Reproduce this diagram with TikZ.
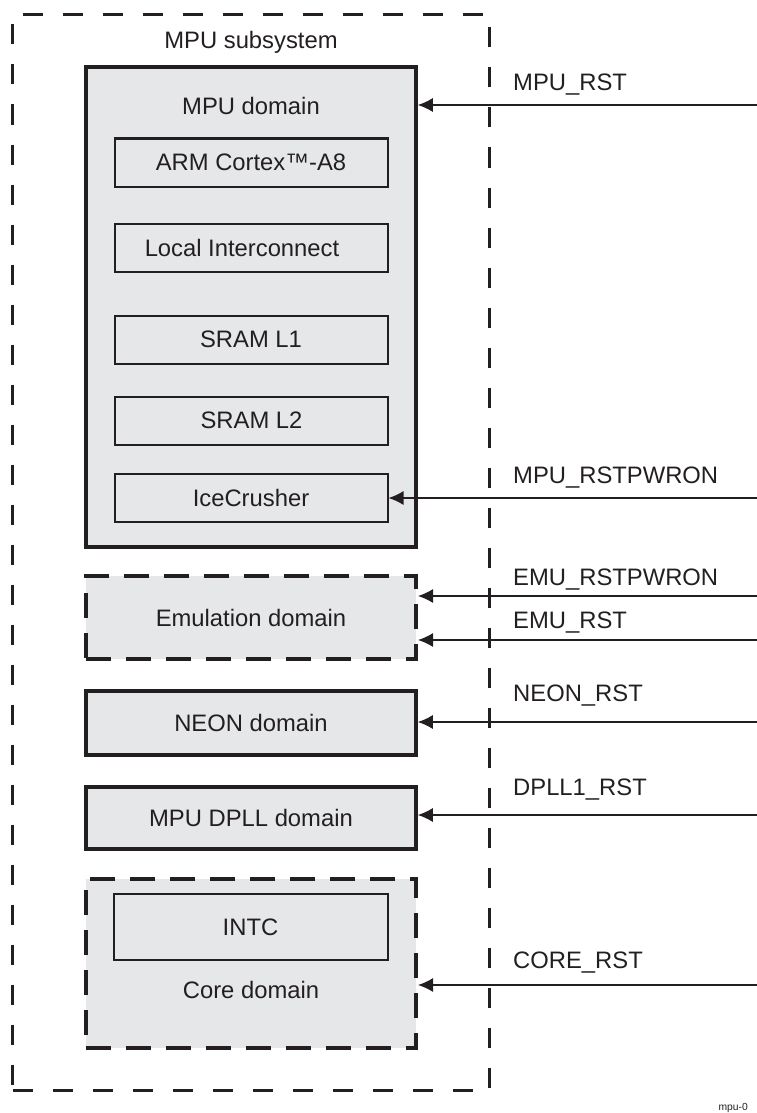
\documentclass[tikz,border=0pt]{standalone}
\usepackage{fontspec}
\setmainfont{Liberation Sans}
\usetikzlibrary{arrows.meta}
\definecolor{domfill}{HTML}{E6E7E8}
\definecolor{inkdark}{HTML}{231F20}

\begin{document}
\begin{tikzpicture}[
    x=1pt, y=-1pt,
    every node/.style={font=\fontsize{23.8}{28}\selectfont, text=inkdark, inner sep=0pt},
    subsys/.style={draw=inkdark, line width=2.7pt, dash pattern=on 20pt off 20pt},
    pwrdomain/.style={draw=inkdark, fill=domfill, line width=3.6pt, minimum width=330pt},
    dashdomain/.style={pwrdomain, line width=4pt, dash pattern=on 25pt off 15pt},
    innerblock/.style={draw=inkdark, fill=domfill, line width=2pt, minimum width=273pt, minimum height=48pt},
    sigline/.style={draw=inkdark, line width=1.3pt, {Latex[length=15pt, width=14pt]}-},
    siglabel/.style={anchor=base west},
    figtag/.style={font=\fontsize{10.3}{12}\selectfont, anchor=base east}
]
\useasboundingbox (0,0) rectangle (757,1113);

% subsystem frame
\node[subsys, minimum width=477pt, minimum height=1076pt] (subsys) at (251,552.5) {};
\node[anchor=base] (subsystxt) at (251,49) {MPU subsystem};

% MPU domain with its blocks
\node[pwrdomain, minimum height=480pt] (mpudom) at (251,307) {};
\node[anchor=base] (mpudomtxt) at (251,115) {MPU domain};
\node[innerblock] (arm)   at (251,162.5) {ARM Cortex™-A8};
\node[innerblock, label={[xshift=-9pt]center:Local Interconnect}] (lic) at (251,247.5) {};
\node[innerblock] (sram1) at (251,339.5) {SRAM L1};
\node[innerblock] (sram2) at (251.5,420.5) {SRAM L2};
\node[innerblock] (ice)   at (251,497.5) {IceCrusher};

% other domains
\node[dashdomain, minimum height=83pt] (emu)  at (251,617.5) {Emulation domain};
\node[pwrdomain,  minimum height=64pt] (neon) at (251,723)   {NEON domain};
\node[pwrdomain,  minimum height=62pt] (dpll) at (251,818)   {MPU DPLL domain};
\node[dashdomain, minimum height=169pt] (core) at (251,963.5) {};
\node[innerblock, minimum width=274pt, minimum height=66pt] (intc) at (250.5,927) {INTC};
\node[anchor=base] (coretxt) at (251,998) {Core domain};

% reset inputs
\foreach \ypos/\dom in {105/mpudom, 498/ice, 596/emu, 640/emu,
                        722/neon, 815/dpll, 985/core}{
  \coordinate (src\ypos) at (757,\ypos);
  \draw[sigline] (src\ypos -| \dom.east) -- (src\ypos);
}
\foreach \ypos/\sig in {91/MPU\_RST, 483/MPU\_RSTPWRON, 585/EMU\_RSTPWRON,
                        628/EMU\_RST, 701/NEON\_RST, 795/DPLL1\_RST, 968/CORE\_RST}{
  \node[siglabel] (lbl\ypos) at (513,\ypos) {\sig};
}

\node[figtag] (tag) at (748,1110) {mpu-0};
\end{tikzpicture}
\end{document}
